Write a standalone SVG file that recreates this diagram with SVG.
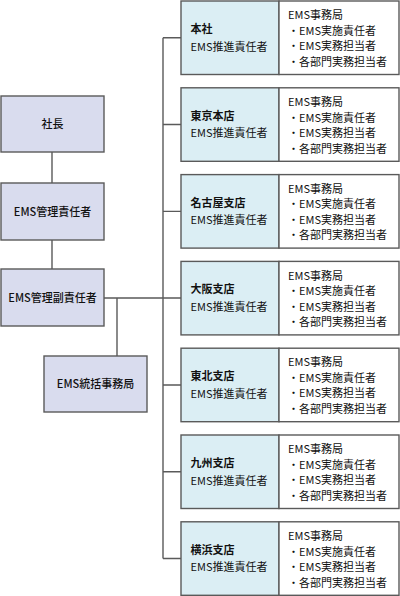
<svg xmlns="http://www.w3.org/2000/svg" width="400" height="596" viewBox="0 0 400 596">
<style>
text{font-family:"Noto Sans CJK JP","Noto Sans",sans-serif;font-size:11px;fill:#111}
.lb{fill:#d9dcee;stroke:#5a5a5a;stroke-width:1.4}
.bl{fill:#dbeef4;stroke:#5a5a5a;stroke-width:1.4}
.bw{fill:#fff;stroke:#5a5a5a;stroke-width:1.4}
.c{text-anchor:middle;font-weight:500}
.b{font-weight:bold}
.ln{stroke:#5a5a5a;stroke-width:1.4;fill:none}
</style>
<defs>
<g id="staff">
<text x="288" y="-18.5">EMS事務局</text>
<text x="288" y="-3">・EMS実施責任者</text>
<text x="288" y="12.5">・EMS実務担当者</text>
<text x="288" y="28">・各部門実務担当者</text>
</g>
</defs>
<g id="connectors">
<path class="ln" d="M52 152V183M52 240V269M104 298H181M117 298V356M163 37.75V558.5"/>
<path class="ln" d="M163 37.75H181M163 124.55H181M163 211.35H181M163 384.95H181M163 471.75H181M163 558.55H181"/>
</g>
<g id="n-shacho"><rect class="lb" x="1" y="96" width="103" height="56"/><text class="c" x="52.5" y="128">社長</text></g>
<g id="n-kanri"><rect class="lb" x="1" y="183" width="103" height="57"/><text class="c" x="52.5" y="215.5">EMS管理責任者</text></g>
<g id="n-fuku"><rect class="lb" x="1" y="269" width="103" height="57"/><text class="c" x="52.5" y="302">EMS管理副責任者</text></g>
<g id="n-tokatsu"><rect class="lb" x="44" y="356" width="103" height="56"/><text class="c" x="95.5" y="388">EMS統括事務局</text></g>
<g id="b-honsha" transform="translate(0,37.75)"><rect class="bl" x="181" y="-36.75" width="98" height="73.5"/><rect class="bw" x="279" y="-36.75" width="120" height="73.5"/><text class="b" x="190.5" y="-4.8">本社</text><text x="190.5" y="12.8">EMS推進責任者</text><use href="#staff"/></g>
<g id="b-tokyo" transform="translate(0,124.55)"><rect class="bl" x="181" y="-36.75" width="98" height="73.5"/><rect class="bw" x="279" y="-36.75" width="120" height="73.5"/><text class="b" x="190.5" y="-4.8">東京本店</text><text x="190.5" y="12.8">EMS推進責任者</text><use href="#staff"/></g>
<g id="b-nagoya" transform="translate(0,211.35)"><rect class="bl" x="181" y="-36.75" width="98" height="73.5"/><rect class="bw" x="279" y="-36.75" width="120" height="73.5"/><text class="b" x="190.5" y="-4.8">名古屋支店</text><text x="190.5" y="12.8">EMS推進責任者</text><use href="#staff"/></g>
<g id="b-osaka" transform="translate(0,298.15)"><rect class="bl" x="181" y="-36.75" width="98" height="73.5"/><rect class="bw" x="279" y="-36.75" width="120" height="73.5"/><text class="b" x="190.5" y="-4.8">大阪支店</text><text x="190.5" y="12.8">EMS推進責任者</text><use href="#staff"/></g>
<g id="b-tohoku" transform="translate(0,384.95)"><rect class="bl" x="181" y="-36.75" width="98" height="73.5"/><rect class="bw" x="279" y="-36.75" width="120" height="73.5"/><text class="b" x="190.5" y="-4.8">東北支店</text><text x="190.5" y="12.8">EMS推進責任者</text><use href="#staff"/></g>
<g id="b-kyushu" transform="translate(0,471.75)"><rect class="bl" x="181" y="-36.75" width="98" height="73.5"/><rect class="bw" x="279" y="-36.75" width="120" height="73.5"/><text class="b" x="190.5" y="-4.8">九州支店</text><text x="190.5" y="12.8">EMS推進責任者</text><use href="#staff"/></g>
<g id="b-yokohama" transform="translate(0,558.55)"><rect class="bl" x="181" y="-36.75" width="98" height="73.5"/><rect class="bw" x="279" y="-36.75" width="120" height="73.5"/><text class="b" x="190.5" y="-4.8">横浜支店</text><text x="190.5" y="12.8">EMS推進責任者</text><use href="#staff"/></g>
</svg>
